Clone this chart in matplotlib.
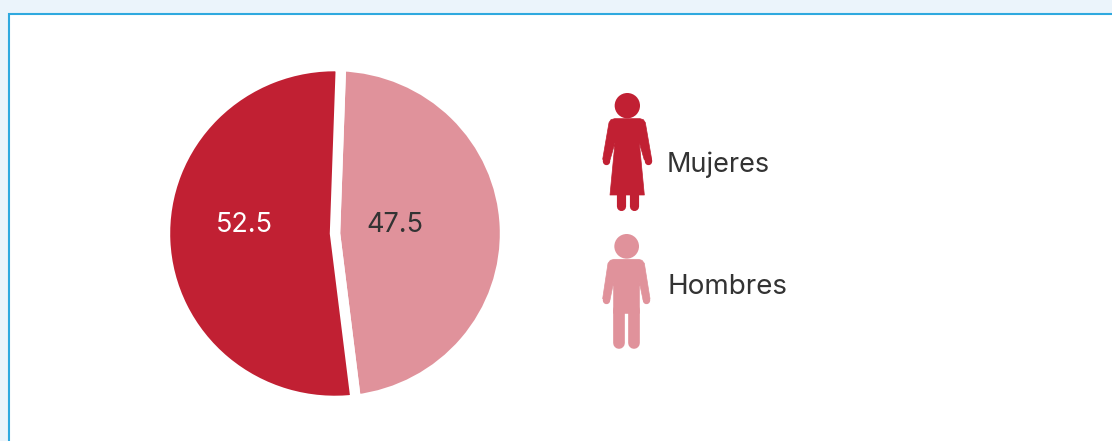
import matplotlib.pyplot as plt
from matplotlib.patches import Circle, Polygon, Rectangle

# datos del grafico
categorias = ["Hombres", "Mujeres"]
valores = [47.5, 52.5]
colores = ["#E0929B", "#C12033"]
colores_texto = ["#333333", "#FFFFFF"]

W, H = 1112, 441
plt.rcParams['font.family'] = ['Inter', 'DejaVu Sans']

fig = plt.figure(figsize=(W / 100, H / 100), dpi=100, facecolor="#EBF4FB")

# capa de fondo en pixeles
bg = fig.add_axes([0, 0, 1, 1])
bg.set_xlim(0, W)
bg.set_ylim(H, 0)
bg.axis("off")
bg.add_patch(Rectangle((9, 14), W, H, facecolor="white", edgecolor="#2FA9DF", linewidth=1.5))


def zoom_xy(puntos):
    return [(590 + x / 3, 80 + y / 3) for x, y in puntos]


def linea(puntos, color, ancho):
    xy = zoom_xy(puntos)
    bg.plot([p[0] for p in xy], [p[1] for p in xy], color=color, lw=ancho,
            solid_capstyle="round", zorder=3)


def dibujar_mujer(color):
    bg.add_patch(Circle(zoom_xy([(112, 77)])[0], 38 / 3, color=color, lw=0))
    bg.add_patch(Polygon(zoom_xy([(74, 116), (150, 116), (160, 119), (166, 128), (185, 238), (163, 240), (148, 188),
                                  (163, 345), (60, 345), (75, 188), (60, 240), (38, 238), (57, 128), (63, 119)]),
                         closed=True, facecolor=color, edgecolor=color, lw=0.5, joinstyle="round", zorder=3))
    linea([(49, 241), (49, 242)], color, 5.3)
    linea([(174, 241), (174, 242)], color, 5.3)
    for x in (94, 131):
        linea([(x, 340), (x, 379)], color, 6.6)


def dibujar_hombre(color):
    bg.add_patch(Circle(zoom_xy([(110, 499)])[0], 37 / 3, color=color, lw=0))
    bg.add_patch(Polygon(zoom_xy([(72, 538), (146, 538), (156, 541), (163, 550), (180, 656), (159, 659), (148, 606),
                                  (148, 700), (71, 700), (71, 606), (60, 659), (38, 656), (54, 550), (61, 541)]),
                         closed=True, facecolor=color, edgecolor=color, lw=0.5, joinstyle="round", zorder=3))
    linea([(49, 658), (49, 659)], color, 5.3)
    linea([(169, 658), (169, 659)], color, 5.3)
    for x in (88, 131):
        linea([(x, 690), (x, 788)], color, 8.4)


dibujar_mujer(colores[1])
dibujar_hombre(colores[0])

bg.text(667, 164.5, categorias[1], fontsize=19.5, color="#333333", va="center", ha="left")
bg.text(667, 287.5, categorias[0], fontsize=20, color="#333333", va="center", ha="left")

# pastel, un poco achatado como en el original
alto = 360 * 162.5 / 165
ax = fig.add_axes([155 / W, 1 - (233.5 + alto / 2) / H, 360 / W, alto / H])
ax.patch.set_alpha(0)
wedges, _ = ax.pie(valores, colors=colores, startangle=88, counterclock=False,
                   wedgeprops={"edgecolor": "white", "linewidth": 7.5, "joinstyle": "miter"})
ax.set_aspect("auto")
ax.set_xlim(-180 / 170, 180 / 170)
ax.set_ylim(-180 / 170, 180 / 170)

bg.set_zorder(1)
ax.set_zorder(2)

etiquetas = fig.add_axes([0, 0, 1, 1], zorder=3)
etiquetas.set_xlim(0, W)
etiquetas.set_ylim(H, 0)
etiquetas.axis("off")
etiquetas.text(244.5, 225.5, f"{valores[1]}", color=colores_texto[1], fontsize=19.5, ha="center", va="center")
etiquetas.text(395, 225.5, f"{valores[0]}", color=colores_texto[0], fontsize=19.5, ha="center", va="center")

fig.savefig("out.png", dpi=100, facecolor=fig.get_facecolor())
plt.close(fig)
